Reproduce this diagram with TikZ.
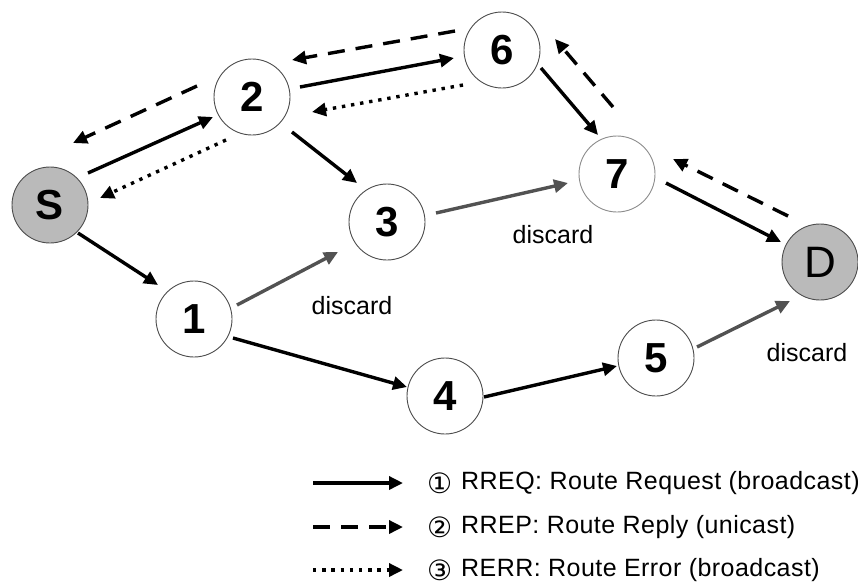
\documentclass[tikz,border=0pt]{standalone}
\usepackage{fontspec}
\setmainfont{Liberation Sans}
\newfontfamily\symfont{DejaVu Sans}
\newfontfamily\legfont[LetterSpace=1.8]{Liberation Sans}
\usetikzlibrary{arrows.meta}
\tikzset{
  nd/.style={circle,draw=black!70,line width=0.9pt,minimum size=76pt,inner sep=0pt,outer sep=0pt,fill=white,
    font=\fontsize{42}{42}\selectfont\bfseries},
  endnd/.style={nd,fill=black!27},
  arr/.style={line width=3.4pt,-{Triangle[length=14pt,width=13pt]}},
  rep/.style={arr,dash pattern=on 17pt off 11pt},
  err/.style={arr,dash pattern=on 3.4pt off 5.8pt},
  disc/.style={arr,draw=black!68,-{Triangle[length=14pt,width=13pt,fill=black!68]}},
  lbl/.style={font=\fontsize{25}{25}\selectfont,inner sep=0pt},
  legtext/.style={font=\legfont\fontsize{25}{25}\selectfont,inner sep=0pt,anchor=west},
  circnum/.style={font=\symfont\fontsize{28}{28}\selectfont,inner sep=0pt,anchor=west}
}
\begin{document}
\begin{tikzpicture}[x=1pt,y=-1pt]
\useasboundingbox (0,0) rectangle (858,587);
% nodes
\node[endnd] (S) at (50,205) {S};
\node[nd] (n2) at (252,97) {2};
\node[nd] (n3) at (387,222) {3};
\node[nd] (n6) at (502,50) {6};
\node[nd,draw=black!45] (n7) at (617,174) {7};
\node[endnd,font=\fontsize{44}{44}\selectfont] (D) at (820,262) {D};
\node[nd] (n1) at (194,319) {1};
\node[nd] (n4) at (445,396) {4};
\node[nd] (n5) at (656,358) {5};
% labels
\node[lbl] (d1) at (352,306) {discard};
\node[lbl] (d2) at (553,235) {discard};
\node[lbl] (d3) at (807,353) {discard};
% connectors
\draw[arr] ([shift={(38,-32)}]S.center) -- ([shift={(-39,20)}]n2.center);
\draw[rep] ([shift={(-55,-11)}]n2.center) -- ([shift={(23,-62)}]S.center);
\draw[err] ([shift={(-26,43)}]n2.center) -- ([shift={(50,-7)}]S.center);
\draw[arr] ([shift={(48,-10)}]n2.center) -- ([shift={(-48,8)}]n6.center);
\draw[rep] ([shift={(-47,-19)}]n6.center) -- ([shift={(40,-37)}]n2.center);
\draw[err] ([shift={(-39,35)}]n6.center) -- ([shift={(60,15)}]n2.center);
\draw[arr] ([shift={(40,35)}]n2.center) -- ([shift={(-30,-39)}]n3.center);
\draw[arr] ([shift={(39,18)}]n6.center) -- ([shift={(-19,-39)}]n7.center);
\draw[rep] ([shift={(-4,-67)}]n7.center) -- ([shift={(53,-11)}]n6.center);
\draw[disc] ([shift={(49,-9)}]n3.center) -- ([shift={(-49,9)}]n7.center);
\draw[arr] ([shift={(49,9)}]n7.center) -- ([shift={(-39,-20)}]D.center);
\draw[rep] ([shift={(-32,-46)}]D.center) -- ([shift={(56,-15)}]n7.center);
\draw[arr] ([shift={(28,28)}]S.center) -- ([shift={(-36,-34)}]n1.center);
\draw[disc] ([shift={(43,-14)}]n1.center) -- ([shift={(-49,30)}]n3.center);
\draw[arr] ([shift={(39,19)}]n1.center) -- ([shift={(-38,-9)}]n4.center);
\draw[arr] ([shift={(39,1)}]n4.center) -- ([shift={(-39,8)}]n5.center);
\draw[disc] ([shift={(41,-11)}]n5.center) -- ([shift={(-30,39)}]D.center);
% legend
\coordinate (l1a) at (313,483); \coordinate (l1b) at (403,483);
\coordinate (l2a) at (313,527); \coordinate (l2b) at (403,527);
\coordinate (l3a) at (313,570); \coordinate (l3b) at (403,570);
\draw[arr] (l1a) -- (l1b);
\draw[rep] (l2a) -- (l2b);
\draw[err] (l3a) -- (l3b);
\node[circnum] (c1) at (427,483) {①};
\node[circnum] (c2) at (427,527) {②};
\node[circnum] (c3) at (427,570) {③};
\node[legtext] (t1) at (461,483) {RREQ: Route Request (broadcast)};
\node[legtext] (t2) at (461,527) {RREP: Route Reply (unicast)};
\node[legtext] (t3) at (461,570) {RERR: Route Error (broadcast)};
\end{tikzpicture}
\end{document}
